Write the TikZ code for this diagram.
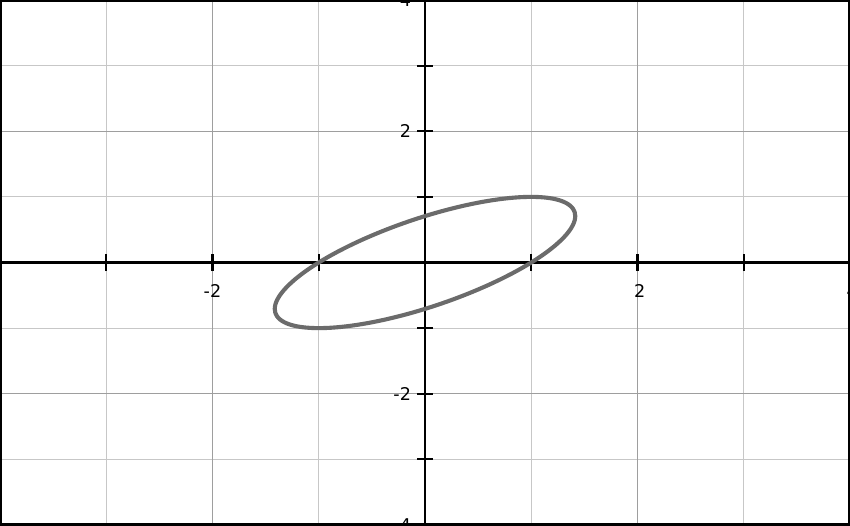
\documentclass[tikz,border=0pt]{standalone}
\usepackage{fontspec}
\setmainfont{DejaVu Sans}
\begin{document}
\begin{tikzpicture}[
  x=2cm, y=1.2353cm,
  every node/.style={font=\fontsize{9.4}{11}\selectfont},
  minorgrid/.style={draw=black!22, line width=0.55pt},
  majorgrid/.style={draw=black!38, line width=0.65pt},
  axisline/.style={draw=black, line width=1.1pt},
  tickmark/.style={draw=black, line width=1.1pt},
  curve/.style={draw=black!58, line width=2.2pt, line join=round}
]
\useasboundingbox (-4,-4) rectangle (4,4);
\begin{scope}
  \clip (-4,-4) rectangle (4,4);
  % grid
  \foreach \i in {-3,-1,1,3} {
    \draw[minorgrid] (\i,-4) -- (\i,4);
    \draw[minorgrid] (-4,\i) -- (4,\i);
  }
  \foreach \i in {-2,2} {
    \draw[majorgrid] (\i,-4) -- (\i,4);
    \draw[majorgrid] (-4,\i) -- (4,\i);
  }
  % axes
  \coordinate (xl) at (-4,0);
  \coordinate (xr) at (4,0);
  \coordinate (yb) at (0,-4);
  \coordinate (yt) at (0,4);
  \draw[axisline] (xl) -- (xr);
  \draw[axisline] (yb) -- (yt);
  \foreach \i in {-3,-2,-1,1,2,3} {
    \draw[tickmark] (\i,-0.13) -- (\i,0.13);
    \draw[tickmark] (-0.075,\i) -- (0.075,\i);
  }
  % labels
  \node (xm2) at (-2,-0.43) {-2};
  \node (xp2) at (2.02,-0.43) {2};
  \node (xp4) at (4.02,-0.43) {4};
  \node[anchor=east] (yp2) at (-0.07,2) {2};
  \node[anchor=east] (ym2) at (-0.07,-2) {-2};
  \node[anchor=east] (yp4) at (-0.07,4) {4};
  \node[anchor=east] (ym4) at (-0.07,-4) {-4};
  % ellipse (x-y)^2 + y^2 = 1
  \draw[curve] plot[domain=0:355, samples=72, smooth cycle]
    ({cos(\x)+sin(\x)}, {sin(\x)});
\end{scope}
\draw[line width=2.2pt] (-4,-4) rectangle (4,4);
\end{tikzpicture}
\end{document}
